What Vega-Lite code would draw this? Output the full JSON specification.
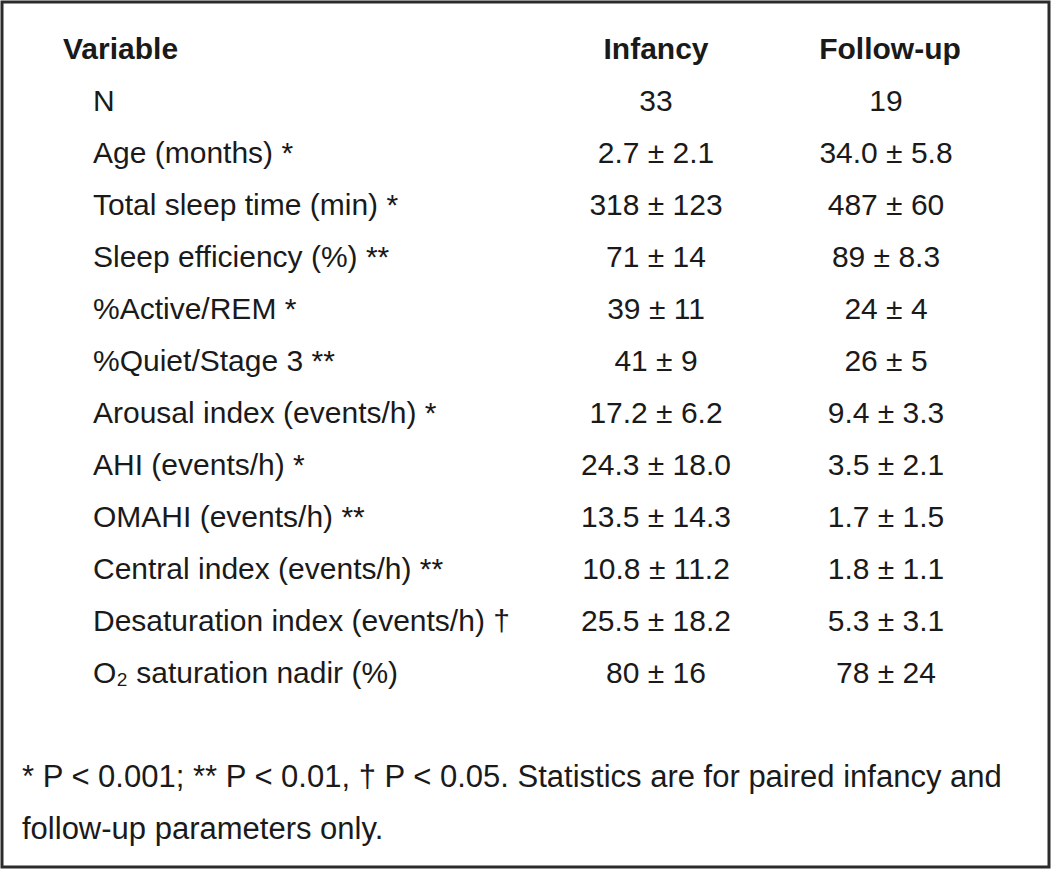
{
  "$schema": "https://vega.github.io/schema/vega-lite/v6.json",
  "width": 1051,
  "height": 869,
  "autosize": {"type": "fit", "contains": "padding"},
  "padding": 2,
  "background": "white",
  "config": {
    "view": {"stroke": "#2b2b2b", "strokeWidth": 3},
    "text": {"font": "Liberation Sans", "fontSize": 30, "fill": "#1a1a1a", "baseline": "middle"}
  },
  "datasets": {
    "header": [
      {"row": -1, "col": "Variable", "text": "Variable"},
      {"row": -1, "col": "Infancy", "text": "Infancy"},
      {"row": -1, "col": "Follow-up", "text": "Follow-up"}
    ],
    "body": [
      {"row": 0, "col": "Label", "text": "N"},
      {"row": 0, "col": "Infancy", "text": "33"},
      {"row": 0, "col": "Follow-up", "text": "19"},
      {"row": 1, "col": "Label", "text": "Age (months) *"},
      {"row": 1, "col": "Infancy", "text": "2.7 ± 2.1"},
      {"row": 1, "col": "Follow-up", "text": "34.0 ± 5.8"},
      {"row": 2, "col": "Label", "text": "Total sleep time (min) *"},
      {"row": 2, "col": "Infancy", "text": "318 ± 123"},
      {"row": 2, "col": "Follow-up", "text": "487 ± 60"},
      {"row": 3, "col": "Label", "text": "Sleep efficiency (%) **"},
      {"row": 3, "col": "Infancy", "text": "71 ± 14"},
      {"row": 3, "col": "Follow-up", "text": "89 ± 8.3"},
      {"row": 4, "col": "Label", "text": "%Active/REM *"},
      {"row": 4, "col": "Infancy", "text": "39 ± 11"},
      {"row": 4, "col": "Follow-up", "text": "24 ± 4"},
      {"row": 5, "col": "Label", "text": "%Quiet/Stage 3 **"},
      {"row": 5, "col": "Infancy", "text": "41 ± 9"},
      {"row": 5, "col": "Follow-up", "text": "26 ± 5"},
      {"row": 6, "col": "Label", "text": "Arousal index (events/h) *"},
      {"row": 6, "col": "Infancy", "text": "17.2 ± 6.2"},
      {"row": 6, "col": "Follow-up", "text": "9.4 ± 3.3"},
      {"row": 7, "col": "Label", "text": "AHI (events/h) *"},
      {"row": 7, "col": "Infancy", "text": "24.3 ± 18.0"},
      {"row": 7, "col": "Follow-up", "text": "3.5 ± 2.1"},
      {"row": 8, "col": "Label", "text": "OMAHI (events/h) **"},
      {"row": 8, "col": "Infancy", "text": "13.5 ± 14.3"},
      {"row": 8, "col": "Follow-up", "text": "1.7 ± 1.5"},
      {"row": 9, "col": "Label", "text": "Central index (events/h) **"},
      {"row": 9, "col": "Infancy", "text": "10.8 ± 11.2"},
      {"row": 9, "col": "Follow-up", "text": "1.8 ± 1.1"},
      {"row": 10, "col": "Label", "text": "Desaturation index (events/h) †"},
      {"row": 10, "col": "Infancy", "text": "25.5 ± 18.2"},
      {"row": 10, "col": "Follow-up", "text": "5.3 ± 3.1"},
      {"row": 11, "col": "Label", "text": "O₂ saturation nadir (%)"},
      {"row": 11, "col": "Infancy", "text": "80 ± 16"},
      {"row": 11, "col": "Follow-up", "text": "78 ± 24"}
    ],
    "notes": [
      {"row": 13, "text": "* P < 0.001; ** P < 0.01, † P < 0.05. Statistics are for paired infancy and"},
      {"row": 14, "text": "follow-up parameters only."}
    ]
  },
  "encoding": {
    "y": {"field": "row", "type": "quantitative", "scale": {"domain": [-1.923, 14.712], "reverse": true, "nice": false, "zero": false}, "axis": null},
    "text": {"field": "text", "type": "nominal"}
  },
  "resolve": {"scale": {"x": "shared"}},
  "layer": [
    {"data": {"name": "header"}, "transform": [{"filter": "datum.col === 'Variable'"}], "mark": {"type": "text", "align": "left", "fontWeight": "bold"},
     "encoding": {"x": {"datum": 61, "type": "quantitative", "scale": {"domain": [0, 1047], "nice": false, "zero": false}, "axis": null}}},
    {"data": {"name": "header"}, "transform": [{"filter": "datum.col === 'Infancy'"}], "mark": {"type": "text", "align": "center", "fontWeight": "bold"},
     "encoding": {"x": {"datum": 654, "type": "quantitative"}}},
    {"data": {"name": "header"}, "transform": [{"filter": "datum.col === 'Follow-up'"}], "mark": {"type": "text", "align": "center", "fontWeight": "bold"},
     "encoding": {"x": {"datum": 888, "type": "quantitative"}}},
    {"data": {"name": "body"}, "transform": [{"filter": "datum.col === 'Label'"}], "mark": {"type": "text", "align": "left"},
     "encoding": {"x": {"datum": 91, "type": "quantitative"}}},
    {"data": {"name": "body"}, "transform": [{"filter": "datum.col === 'Infancy'"}], "mark": {"type": "text", "align": "center"},
     "encoding": {"x": {"datum": 654, "type": "quantitative"}}},
    {"data": {"name": "body"}, "transform": [{"filter": "datum.col === 'Follow-up'"}], "mark": {"type": "text", "align": "center"},
     "encoding": {"x": {"datum": 884, "type": "quantitative"}}},
    {"data": {"name": "notes"}, "mark": {"type": "text", "align": "left", "fontSize": 31},
     "encoding": {"x": {"datum": 20, "type": "quantitative"}}}
  ]
}
